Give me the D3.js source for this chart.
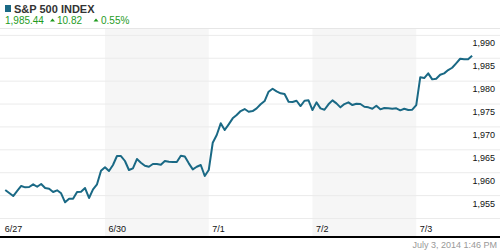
<!DOCTYPE html>
<html>
<head>
<meta charset="utf-8">
<script src="https://cdnjs.cloudflare.com/ajax/libs/d3/7.8.5/d3.min.js"></script>
<style>
  body { margin: 0; background: #fff; }
  svg { display: block; font-family: Arial, "Liberation Sans", sans-serif; }
</style>
</head>
<body>
<script>
// day labels on the x axis
var days = ["6/27", "6/30", "7/1", "7/2", "7/3"];

// 15 minute closes for each session (slot 0 = 9:30)
var d0627 = [null, 1956.11, 1955.46, 1954.80, 1955.90, 1956.99, 1956.70, 1956.77, 1957.36, 1956.83,
             1957.42, 1956.55, 1956.40, 1955.68, 1956.05, 1955.39, 1953.43, 1954.21, 1954.21, 1955.68,
             1955.74, 1956.55, 1954.37, 1956.27, 1957.36, 1960.33];
var d0630 = [1961.10, 1960.26, 1961.57, 1963.54, 1963.54, 1962.45, 1960.48, 1960.85, 1962.88, 1962.07,
             1961.42, 1961.20, 1961.79, 1961.79, 1961.64, 1962.45, 1962.29, 1962.23, 1962.23, 1963.60,
             1963.43, 1961.94, 1960.63, 1961.20, 1961.57, 1959.17];
var d0701 = [1960.48, 1966.44, 1968.12, 1970.68, 1969.21, 1970.46, 1971.77, 1972.49, 1973.36, 1973.80,
             1973.21, 1973.36, 1973.95, 1974.83, 1975.55, 1977.58, 1978.23, 1977.66, 1977.23, 1977.07,
             1975.39, 1975.33, 1975.61, 1974.45, 1975.61, 1975.70];
var d0702 = [1973.58, 1975.26, 1973.95, 1973.65, 1974.83, 1975.70, 1975.04, 1974.17, 1974.89, 1975.26,
             1974.67, 1974.96, 1974.89, 1974.30, 1974.17, 1973.86, 1974.52, 1973.73, 1974.02, 1973.95,
             1973.86, 1973.95, 1973.52, 1973.86, 1973.58, 1973.65];
var d0703 = [1974.67, 1980.72, 1980.57, 1981.59, 1980.28, 1980.41, 1981.29, 1981.59, 1982.31, 1982.82,
             1983.78, 1984.78, 1984.65, 1984.65, 1985.44];

// y tick values
var yTicks = [1950, 1955, 1960, 1965, 1970, 1975, 1980, 1985, 1990];

// header quote
var quoteName = "S&P 500 INDEX";
var quoteLast = "1,985.44";
var quoteChange = "10.82";
var quotePct = "0.55%";
var stamp = "July 3, 2014 1:46 PM";

var width = 500, height = 250;
var slotsPerDay = 26;
var lineColor = "#1a6985", green = "#1e9b1e";

// flatten sessions into points, x measured in days
var data = [];
[d0627, d0630, d0701, d0702, d0703].forEach(function(arr, i) {
  arr.forEach(function(v, s) {
    data.push({ t: i + s / slotsPerDay, v: v });
  });
});

// set the ranges
var x = d3.scaleLinear().domain([0, 5]).range([1.25, 1.25 + 5 * 103.75]);
var y = d3.scaleLinear().domain([1950, 1991.5]).range([218, 28]);

var svg = d3.select("body").append("svg")
    .attr("width", width)
    .attr("height", height);

// shaded alternate days
svg.selectAll("rect.band")
    .data([1, 3])
  .enter().append("rect")
    .attr("class", "band")
    .attr("x", function(d) { return x(d); })
    .attr("y", 29)
    .attr("width", function(d) { return x(d + 1) - x(d); })
    .attr("height", 207)
    .attr("fill", "#f6f6f6");

// separator under header
svg.append("line")
    .attr("x1", 0).attr("x2", width)
    .attr("y1", 28.5).attr("y2", 28.5)
    .attr("stroke", "#e6e6e6");

// horizontal gridlines + labels (labels hang under the line)
var yAxis = svg.append("g")
    .call(d3.axisRight(y).tickValues(yTicks).tickSize(width).tickFormat(d3.format(",")));
yAxis.select(".domain").remove();
yAxis.selectAll(".tick line").attr("stroke", "#ebebeb");
yAxis.selectAll(".tick text")
    .attr("x", 495)
    .attr("dy", 11)
    .style("text-anchor", "end")
    .style("font-size", "9px")
    .attr("fill", "#111")
    .filter(function(d) { return d === 1950; }).remove();

// x axis day labels
var xAxis = svg.append("g")
    .attr("transform", "translate(0,218)")
    .call(d3.axisBottom(x).tickValues([0, 1, 2, 3, 4]).tickSize(0)
      .tickFormat(function(i) { return days[i]; }));
xAxis.select(".domain").remove();
xAxis.selectAll(".tick text")
    .attr("x", 3)
    .attr("y", 14)
    .attr("dy", 0)
    .style("text-anchor", "start")
    .style("font-size", "9px")
    .attr("fill", "#111");

// the price line
var valueline = d3.line()
    .defined(function(d) { return d.v != null; })
    .x(function(d) { return x(d.t); })
    .y(function(d) { return y(d.v); });

svg.append("path")
    .datum(data)
    .attr("d", valueline)
    .attr("fill", "none")
    .attr("stroke", lineColor)
    .attr("stroke-width", 2)
    .attr("stroke-linejoin", "round");

// bottom rule and timestamp
svg.append("rect")
    .attr("x", 0).attr("y", 236)
    .attr("width", width).attr("height", 2)
    .attr("fill", "#000");

svg.append("text")
    .attr("x", 497).attr("y", 247.5)
    .attr("text-anchor", "end")
    .style("font-size", "9px")
    .attr("fill", "#999")
    .text(stamp);

// header
svg.append("rect")
    .attr("x", 5).attr("y", 5)
    .attr("width", 6).attr("height", 7)
    .attr("fill", lineColor);

svg.append("text")
    .attr("x", 14).attr("y", 12.5)
    .style("font-size", "11px")
    .style("font-weight", "bold")
    .attr("fill", "#333")
    .text(quoteName);

var quote = svg.append("g").attr("fill", green).style("font-size", "10px");
quote.append("text").attr("x", 5).attr("y", 24).text(quoteLast);
quote.append("path").attr("d", "M50,21.5L52.5,18.5L55,21.5Z");
quote.append("text").attr("x", 57).attr("y", 24).text(quoteChange);
quote.append("path").attr("d", "M93.5,21.5L96,18.5L98.5,21.5Z");
quote.append("text").attr("x", 101).attr("y", 24).text(quotePct);
</script>
</body>
</html>
